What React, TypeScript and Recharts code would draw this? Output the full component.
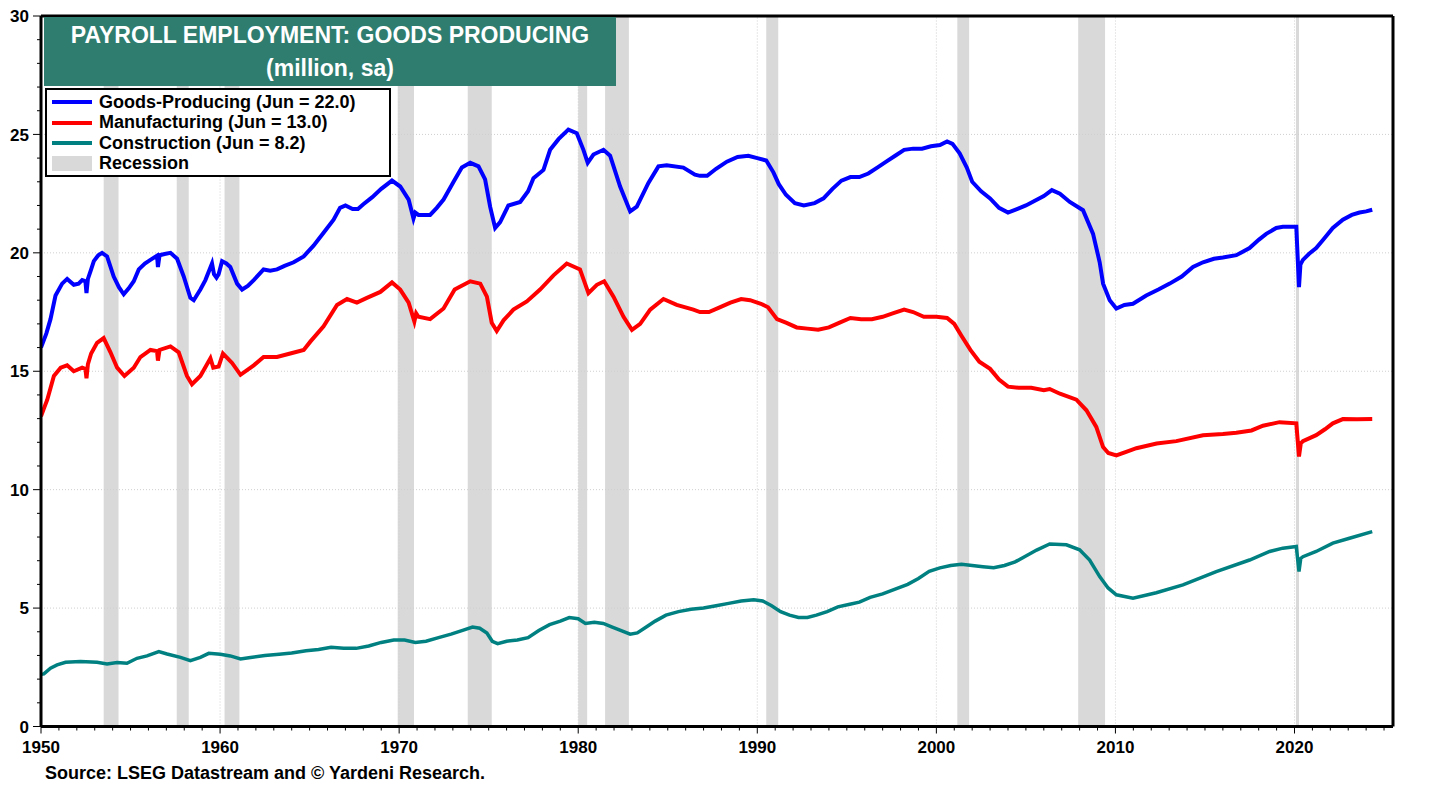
import React from 'react';
import {
  LineChart,
  Line,
  XAxis,
  YAxis,
  ReferenceArea,
  ReferenceLine,
} from 'recharts';

const FONT = 'Arial, "Liberation Sans", sans-serif';

// recessions (decimal years)
const recessionStarts = [1953.5, 1957.58, 1960.25, 1969.92, 1973.83, 1980.0, 1981.5, 1990.5, 2001.17, 2007.92, 2020.08];
const recessionEnds = [1954.33, 1958.25, 1961.08, 1970.83, 1975.17, 1980.5, 1982.83, 1991.17, 2001.83, 2009.42, 2020.25];

const yearTicks = Array.from({ length: 76 }, (_, i) => 1950 + i);
const valueTicks = Array.from({ length: 31 }, (_, i) => i);
const gridValues = [5, 10, 15, 20, 25];
const gridYears = [1960, 1970, 1980, 1990, 2000, 2010, 2020];

// Goods-producing (million)
const goodsYears = [
  1950.0, 1950.3, 1950.53, 1950.81, 1951.18, 1951.46, 1951.83, 1952.1, 1952.3, 1952.48, 1952.54, 1952.62, 1952.8, 1952.95,
  1953.2, 1953.41, 1953.69, 1954.06, 1954.35, 1954.62, 1954.9, 1955.18, 1955.46, 1955.8, 1956.11, 1956.48, 1956.53, 1956.62,
  1956.9, 1957.23, 1957.6, 1957.97, 1958.34, 1958.53, 1958.9, 1959.18, 1959.55, 1959.66, 1959.8, 1959.92, 1960.11, 1960.35,
  1960.57, 1960.95, 1961.23, 1961.55, 1961.88, 1962.43, 1962.8, 1963.18, 1963.6, 1964.11, 1964.67, 1965.22, 1965.78, 1966.34,
  1966.7, 1967.0, 1967.4, 1967.7, 1968.0, 1968.5, 1969.0, 1969.6, 1970.06, 1970.53, 1970.8, 1970.9, 1971.08, 1971.73,
  1972.1, 1972.48, 1973.04, 1973.5, 1973.97, 1974.43, 1974.8, 1975.08, 1975.36, 1975.64, 1976.1, 1976.76, 1977.2, 1977.5,
  1978.06, 1978.43, 1978.9, 1979.45, 1979.92, 1980.29, 1980.53, 1980.85, 1981.41, 1981.78, 1982.34, 1982.9, 1983.27, 1983.92,
  1984.48, 1984.94, 1985.87, 1986.52, 1986.8, 1987.2, 1987.7, 1988.3, 1988.9, 1989.5, 1990.0, 1990.5, 1990.9, 1991.2,
  1991.6, 1992.1, 1992.6, 1993.2, 1993.7, 1994.2, 1994.7, 1995.2, 1995.7, 1996.2, 1996.7, 1997.2, 1997.7, 1998.2,
  1998.7, 1999.2, 1999.7, 2000.2, 2000.6, 2000.9, 2001.3, 2001.7, 2002.0, 2002.5, 2003.0, 2003.5, 2004.0, 2004.5,
  2005.0, 2005.5, 2006.0, 2006.45, 2006.9, 2007.45, 2008.19, 2008.75, 2009.12, 2009.31, 2009.68, 2010.05, 2010.5, 2010.98,
  2011.72, 2012.4, 2013.03, 2013.7, 2014.33, 2014.89, 2015.5, 2016.0, 2016.75, 2017.49, 2018.0, 2018.42, 2018.98, 2019.35,
  2020.1, 2020.25, 2020.33, 2020.47, 2020.8, 2021.21, 2021.6, 2022.14, 2022.7, 2023.2, 2023.63, 2024.0, 2024.34,
];
const goodsValues = [
  16.0, 16.6, 17.2, 18.2, 18.7, 18.9, 18.65, 18.7, 18.85, 18.8, 18.3, 18.9, 19.3, 19.65,
  19.9, 20.0, 19.85, 19.0, 18.55, 18.25, 18.5, 18.8, 19.3, 19.55, 19.7, 19.88, 19.4, 19.9,
  19.95, 20.0, 19.75, 19.0, 18.1, 18.0, 18.45, 18.85, 19.55, 19.1, 18.95, 19.1, 19.65, 19.55,
  19.4, 18.7, 18.45, 18.6, 18.85, 19.3, 19.25, 19.3, 19.45, 19.6, 19.85, 20.3, 20.85, 21.4,
  21.9, 22.0, 21.85, 21.85, 22.05, 22.35, 22.7, 23.05, 22.8, 22.25, 21.45, 21.7, 21.6, 21.6,
  21.9, 22.25, 23.0, 23.6, 23.8, 23.65, 23.1, 21.95, 21.05, 21.3, 22.0, 22.15, 22.6, 23.15,
  23.5, 24.35, 24.8, 25.2, 25.05, 24.35, 23.8, 24.15, 24.35, 24.1, 22.8, 21.75, 21.95, 22.95,
  23.65, 23.7, 23.6, 23.3, 23.25, 23.25, 23.55, 23.85, 24.05, 24.1, 24.0, 23.9, 23.4, 22.9,
  22.45, 22.1, 22.0, 22.1, 22.3, 22.7, 23.05, 23.2, 23.2, 23.35, 23.6, 23.85, 24.1, 24.35,
  24.4, 24.4, 24.5, 24.55, 24.7, 24.6, 24.2, 23.6, 23.0, 22.6, 22.3, 21.9, 21.7, 21.85,
  22.0, 22.2, 22.4, 22.65, 22.5, 22.15, 21.8, 20.8, 19.6, 18.7, 18.0, 17.65, 17.8, 17.85,
  18.2, 18.45, 18.7, 19.0, 19.4, 19.6, 19.75, 19.8, 19.9, 20.2, 20.55, 20.8, 21.05, 21.1,
  21.1, 18.55, 19.5, 19.7, 19.95, 20.2, 20.55, 21.05, 21.4, 21.6, 21.7, 21.75, 21.82,
];

// Manufacturing (million)
const mfgYears = [
  1950.0, 1950.15, 1950.35, 1950.72, 1951.1, 1951.46, 1951.83, 1952.3, 1952.48, 1952.54, 1952.62, 1952.8, 1953.13, 1953.5,
  1953.88, 1954.25, 1954.66, 1955.18, 1955.55, 1956.11, 1956.48, 1956.53, 1956.62, 1957.23, 1957.69, 1958.15, 1958.43, 1958.9,
  1959.46, 1959.62, 1959.92, 1960.16, 1960.67, 1961.14, 1961.88, 1962.43, 1963.18, 1963.92, 1964.67, 1965.04, 1965.78, 1966.53,
  1967.09, 1967.64, 1968.2, 1968.95, 1969.6, 1970.06, 1970.53, 1970.85, 1970.95, 1971.08, 1971.73, 1972.48, 1973.1, 1973.97,
  1974.53, 1974.9, 1975.17, 1975.45, 1975.83, 1976.38, 1977.13, 1977.87, 1978.62, 1979.36, 1980.1, 1980.57, 1981.04, 1981.45,
  1981.97, 1982.53, 1983.0, 1983.46, 1984.02, 1984.76, 1985.5, 1986.43, 1986.8, 1987.3, 1987.9, 1988.5, 1989.1, 1989.6,
  1990.2, 1990.6, 1991.1, 1991.6, 1992.2, 1992.8, 1993.4, 1994.0, 1994.6, 1995.2, 1995.8, 1996.4, 1997.0, 1997.6,
  1998.2, 1998.7, 1999.3, 2000.0, 2000.6, 2001.0, 2001.4, 2001.9, 2002.4, 2003.0, 2003.5, 2004.0, 2004.6, 2005.3,
  2006.0, 2006.33, 2006.9, 2007.82, 2008.38, 2008.93, 2009.31, 2009.6, 2010.05, 2010.6, 2011.17, 2012.3, 2013.4, 2014.89,
  2016.0, 2016.75, 2017.6, 2018.24, 2019.16, 2020.1, 2020.25, 2020.35, 2020.47, 2021.21, 2021.7, 2022.14, 2022.7, 2023.5,
  2024.34,
];
const mfgValues = [
  13.1, 13.4, 13.8, 14.8, 15.15, 15.25, 15.0, 15.15, 15.1, 14.7, 15.3, 15.75, 16.2, 16.4,
  15.8, 15.15, 14.8, 15.15, 15.6, 15.9, 15.85, 15.45, 15.9, 16.05, 15.8, 14.8, 14.45, 14.8,
  15.55, 15.15, 15.2, 15.75, 15.35, 14.85, 15.25, 15.6, 15.6, 15.75, 15.9, 16.25, 16.9, 17.8,
  18.05, 17.9, 18.1, 18.35, 18.75, 18.45, 17.9, 17.1, 17.45, 17.3, 17.2, 17.65, 18.45, 18.8,
  18.7, 18.15, 17.05, 16.7, 17.15, 17.6, 17.95, 18.45, 19.05, 19.55, 19.3, 18.3, 18.65, 18.8,
  18.15, 17.3, 16.75, 17.0, 17.6, 18.05, 17.8, 17.6, 17.5, 17.5, 17.7, 17.9, 18.05, 18.0,
  17.85, 17.7, 17.2, 17.05, 16.85, 16.8, 16.75, 16.85, 17.05, 17.25, 17.2, 17.2, 17.3, 17.45,
  17.6, 17.5, 17.3, 17.3, 17.25, 17.0, 16.5, 15.9, 15.4, 15.1, 14.65, 14.35, 14.3, 14.3,
  14.2, 14.25, 14.05, 13.8, 13.35, 12.65, 11.8, 11.55, 11.45, 11.6, 11.75, 11.95, 12.05, 12.3,
  12.35, 12.4, 12.5, 12.7, 12.85, 12.8, 11.4, 11.95, 12.05, 12.3, 12.55, 12.8, 12.98, 12.97,
  12.98,
];

// Construction (million)
const conYears = [
  1950.0, 1950.16, 1950.53, 1950.9, 1951.37, 1952.2, 1953.13, 1953.69, 1954.25, 1954.8, 1955.36, 1955.92, 1956.58, 1957.04,
  1957.79, 1958.34, 1958.9, 1959.37, 1960.02, 1960.57, 1961.14, 1961.7, 1962.5, 1963.3, 1964.0, 1964.8, 1965.5, 1966.2,
  1966.9, 1967.6, 1968.3, 1969.0, 1969.7, 1970.3, 1970.9, 1971.5, 1972.2, 1972.9, 1973.5, 1974.1, 1974.5, 1974.9,
  1975.2, 1975.5, 1976.0, 1976.6, 1977.2, 1977.8, 1978.4, 1979.0, 1979.5, 1980.0, 1980.4, 1980.9, 1981.4, 1981.9,
  1982.4, 1982.9, 1983.3, 1983.8, 1984.3, 1984.9, 1985.6, 1986.3, 1987.0, 1987.7, 1988.4, 1989.1, 1989.8, 1990.3,
  1990.8, 1991.3, 1991.8, 1992.3, 1992.8, 1993.3, 1993.9, 1994.5, 1995.1, 1995.7, 1996.3, 1997.0, 1997.7, 1998.4,
  1999.0, 1999.6, 2000.2, 2000.8, 2001.4, 2002.0, 2002.6, 2003.2, 2003.8, 2004.4, 2005.0, 2005.6, 2006.33, 2007.26,
  2008.0, 2008.56, 2009.12, 2009.59, 2010.05, 2010.98, 2012.28, 2013.77, 2015.63, 2017.49, 2018.61, 2019.35, 2020.1, 2020.25,
  2020.35, 2020.47, 2021.21, 2022.14, 2023.07, 2024.34,
];
const conValues = [
  2.2, 2.22, 2.46, 2.6, 2.71, 2.74, 2.71, 2.64, 2.7, 2.67, 2.88, 2.98, 3.16, 3.06,
  2.92, 2.78, 2.92, 3.09, 3.05, 2.98, 2.85, 2.91, 3.0, 3.05, 3.1, 3.2, 3.25, 3.35,
  3.3, 3.3, 3.4, 3.55, 3.65, 3.65, 3.55, 3.6, 3.75, 3.9, 4.05, 4.2, 4.15, 3.95,
  3.6, 3.5, 3.6, 3.65, 3.75, 4.05, 4.3, 4.45, 4.6, 4.55, 4.35, 4.4, 4.35, 4.2,
  4.05, 3.9, 3.95, 4.2, 4.45, 4.7, 4.85, 4.95, 5.0, 5.1, 5.2, 5.3, 5.35, 5.3,
  5.1, 4.85, 4.7, 4.6, 4.6, 4.7, 4.85, 5.05, 5.15, 5.25, 5.45, 5.6, 5.8, 6.0,
  6.25, 6.55, 6.7, 6.8, 6.85, 6.8, 6.75, 6.7, 6.8, 6.95, 7.2, 7.45, 7.71, 7.67,
  7.46, 7.03, 6.33, 5.85, 5.56, 5.42, 5.65, 5.98, 6.54, 7.03, 7.39, 7.53, 7.6, 6.54,
  7.1, 7.17, 7.39, 7.74, 7.95, 8.23,
];

const zip = (xs: number[], ys: number[]) => xs.map((x, i) => ({ x, y: ys[i] }));
const goodsData = zip(goodsYears, goodsValues);
const mfgData = zip(mfgYears, mfgValues);
const conData = zip(conYears, conValues);

const legendItems = [
  { label: 'Goods-Producing (Jun = 22.0)', color: '#0000ff', kind: 'line' },
  { label: 'Manufacturing (Jun = 13.0)', color: '#ff0000', kind: 'line' },
  { label: 'Construction (Jun = 8.2)', color: '#008080', kind: 'line' },
  { label: 'Recession', color: '#d9d9d9', kind: 'box' },
];

const YTick = (props: any) => {
  const { x, y, payload, side } = props;
  const v = payload.value;
  const major = v % 5 === 0;
  const dir = side === 'left' ? -1 : 1;
  return (
    <g>
      <line x1={x} x2={x + dir * (major ? 8 : 4)} y1={y} y2={y} stroke="#000" strokeWidth={1} />
      {major && (
        <text
          x={x + dir * 12}
          y={y}
          dy="0.36em"
          textAnchor={side === 'left' ? 'end' : 'start'}
          fontFamily={FONT}
          fontWeight="bold"
          fontSize={17}
          fill="#000"
        >
          {v}
        </text>
      )}
    </g>
  );
};

const XTick = (props: any) => {
  const { x, y, payload } = props;
  const v = payload.value;
  const major = v % 10 === 0;
  return (
    <g>
      <line x1={x} x2={x} y1={y} y2={y + (major ? 7 : 4)} stroke="#000" strokeWidth={1} />
      {major && (
        <text x={x} y={y + 26} textAnchor="middle" fontFamily={FONT} fontWeight="bold" fontSize={17} fill="#000">
          {v}
        </text>
      )}
    </g>
  );
};

export default function App() {
  return (
    <div style={{ position: 'absolute', left: 0, top: 0, width: 1446, height: 790, background: '#fff', fontFamily: FONT }}>
      <LineChart width={1446} height={790} margin={{ top: 16, right: 0, left: 0, bottom: 33.5 }}>
        <XAxis
          dataKey="x"
          type="number"
          domain={[1950, 2025.5]}
          ticks={yearTicks}
          interval={0}
          tickSize={0}
          tickMargin={0}
          tick={<XTick />}
          height={30}
          axisLine={{ stroke: '#000', strokeWidth: 3 }}
          allowDataOverflow
        />
        <YAxis
          yAxisId="left"
          domain={[0, 30]}
          ticks={valueTicks}
          interval={0}
          tickSize={0}
          tickMargin={0}
          tick={<YTick side="left" />}
          width={41}
          axisLine={{ stroke: '#000', strokeWidth: 3 }}
        />
        <YAxis
          yAxisId="right"
          orientation="right"
          domain={[0, 30]}
          ticks={valueTicks}
          interval={0}
          tickSize={0}
          tickMargin={0}
          tick={<YTick side="right" />}
          width={53}
          axisLine={{ stroke: '#000', strokeWidth: 3 }}
        />
        {recessionStarts.map((s, i) => (
          <ReferenceArea
            key={'rec' + i}
            yAxisId="left"
            x1={s}
            x2={recessionEnds[i]}
            fill="#d9d9d9"
            fillOpacity={1}
            stroke="none"
          />
        ))}
        {gridValues.map((v) => (
          <ReferenceLine key={'gy' + v} yAxisId="left" y={v} stroke="#cfcfcf" strokeDasharray="1 2" />
        ))}
        {gridYears.map((v) => (
          <ReferenceLine key={'gx' + v} yAxisId="left" x={v} stroke="#cfcfcf" strokeDasharray="1 2" />
        ))}
        <ReferenceLine yAxisId="left" y={30} stroke="#000" strokeWidth={3} />
        <Line
          yAxisId="left"
          data={conData}
          dataKey="y"
          type="linear"
          stroke="#008080"
          strokeWidth={3.5}
          dot={false}
          isAnimationActive={false}
        />
        <Line
          yAxisId="left"
          data={mfgData}
          dataKey="y"
          type="linear"
          stroke="#ff0000"
          strokeWidth={4}
          dot={false}
          isAnimationActive={false}
        />
        <Line
          yAxisId="left"
          data={goodsData}
          dataKey="y"
          type="linear"
          stroke="#0000ff"
          strokeWidth={4}
          dot={false}
          isAnimationActive={false}
        />
      </LineChart>

      <div
        style={{
          position: 'absolute',
          left: 44,
          top: 17,
          width: 572,
          height: 69,
          background: '#2e7d6f',
          color: '#fff',
          fontWeight: 'bold',
          fontSize: 23,
          textAlign: 'center',
          lineHeight: '33px',
          paddingTop: 2,
          boxSizing: 'border-box',
        }}
      >
        <div>PAYROLL EMPLOYMENT: GOODS PRODUCING</div>
        <div>(million, sa)</div>
      </div>

      <div
        style={{
          position: 'absolute',
          left: 45,
          top: 88,
          width: 346,
          height: 89,
          background: '#fff',
          border: '2px solid #000',
          boxSizing: 'border-box',
          paddingTop: 2,
        }}
      >
        {legendItems.map((it) => (
          <div key={it.label} style={{ display: 'flex', alignItems: 'center', height: 20.5 }}>
            <div style={{ width: 40, marginLeft: 5, display: 'flex', alignItems: 'center' }}>
              {it.kind === 'line' ? (
                <div style={{ width: 40, height: 4, background: it.color }} />
              ) : (
                <div style={{ width: 40, height: 15, background: it.color }} />
              )}
            </div>
            <span style={{ marginLeft: 7, fontWeight: 'bold', fontSize: 18, color: '#000', whiteSpace: 'nowrap' }}>
              {it.label}
            </span>
          </div>
        ))}
      </div>

      <div
        style={{
          position: 'absolute',
          left: 45,
          top: 763,
          fontWeight: 'bold',
          fontSize: 18,
          color: '#000',
          whiteSpace: 'nowrap',
        }}
      >
        Source: LSEG Datastream and © Yardeni Research.
      </div>
    </div>
  );
}
